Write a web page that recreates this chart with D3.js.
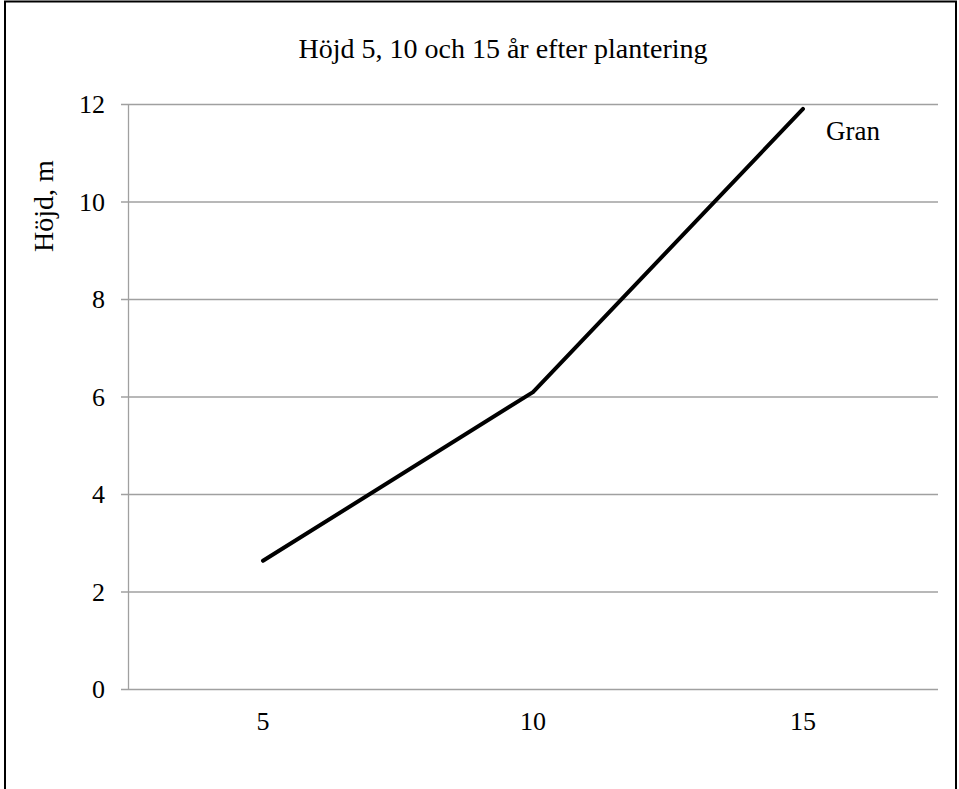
<!DOCTYPE html>
<html>
<head>
<meta charset="utf-8">
<script src="https://cdn.jsdelivr.net/npm/d3@7"></script>
<style>
  body { margin: 0; background: #fff; }
  text { font-family: "Liberation Serif", "Times New Roman", serif; fill: #000; }
</style>
</head>
<body>
<div id="chart"></div>
<script>
// data
var years = ["5", "10", "15"];
var gran = [2.63, 6.09, 11.9];
var yTicks = [0, 2, 4, 6, 8, 10, 12];
var title = "Höjd 5, 10 och 15 år efter plantering";
var yLabel = "Höjd, m";
var seriesName = "Gran";

var W = 959, H = 789;
var margin = {top: 104, right: 21, bottom: 100, left: 128},
    width = W - margin.left - margin.right,
    height = H - margin.top - margin.bottom;

var svg = d3.select("#chart").append("svg")
    .attr("width", W)
    .attr("height", H);

// outer frame (bottom edge is cut off in the picture)
svg.append("rect")
    .attr("x", 5).attr("y", 1.5)
    .attr("width", 951).attr("height", H + 10)
    .attr("fill", "none")
    .attr("stroke", "#000")
    .attr("stroke-width", 2);

var g = svg.append("g")
    .attr("transform", "translate(" + margin.left + "," + margin.top + ")");

var x = d3.scaleBand().domain(years).range([0, width]);
var y = d3.scaleLinear().domain([0, 12]).range([height, 0]);

// gridlines + left ticks
g.selectAll(".grid")
    .data(yTicks)
    .enter().append("line")
    .attr("x1", -7).attr("x2", width)
    .attr("y1", function(d) { return y(d) + 0.5; })
    .attr("y2", function(d) { return y(d) + 0.5; })
    .attr("stroke", "#a0a0a0")
    .attr("stroke-width", 1.3);

// y axis line
g.append("line")
    .attr("x1", 0.5).attr("x2", 0.5)
    .attr("y1", 0).attr("y2", y(0))
    .attr("stroke", "#a0a0a0")
    .attr("stroke-width", 1.3);

// y tick labels
g.selectAll(".ylab")
    .data(yTicks)
    .enter().append("text")
    .attr("x", -23)
    .attr("y", function(d) { return y(d); })
    .attr("dy", "0.35em")
    .attr("text-anchor", "end")
    .style("font-size", "26px")
    .text(function(d) { return d; });

// x labels
g.selectAll(".xlab")
    .data(years)
    .enter().append("text")
    .attr("x", function(d) { return x(d) + x.bandwidth() / 2; })
    .attr("y", y(0) + 41)
    .attr("text-anchor", "middle")
    .style("font-size", "26px")
    .text(function(d) { return d; });

// line
var line = d3.line()
    .x(function(d, i) { return x(years[i]) + x.bandwidth() / 2; })
    .y(function(d) { return y(d); });

g.append("path")
    .datum(gran)
    .attr("d", line)
    .attr("fill", "none")
    .attr("stroke", "#000")
    .attr("stroke-width", 4)
    .attr("stroke-linecap", "round")
    .attr("stroke-linejoin", "round");

// series label
g.append("text")
    .attr("x", x("15") + x.bandwidth() / 2 + 23)
    .attr("y", y(gran[2]) + 31)
    .style("font-size", "27px")
    .text(seriesName);

// title
svg.append("text")
    .attr("x", 503)
    .attr("y", 58)
    .attr("text-anchor", "middle")
    .style("font-size", "28px")
    .text(title);

// y axis title
svg.append("text")
    .attr("transform", "translate(53,206) rotate(-90)")
    .attr("text-anchor", "middle")
    .style("font-size", "28px")
    .text(yLabel);
</script>
</body>
</html>
